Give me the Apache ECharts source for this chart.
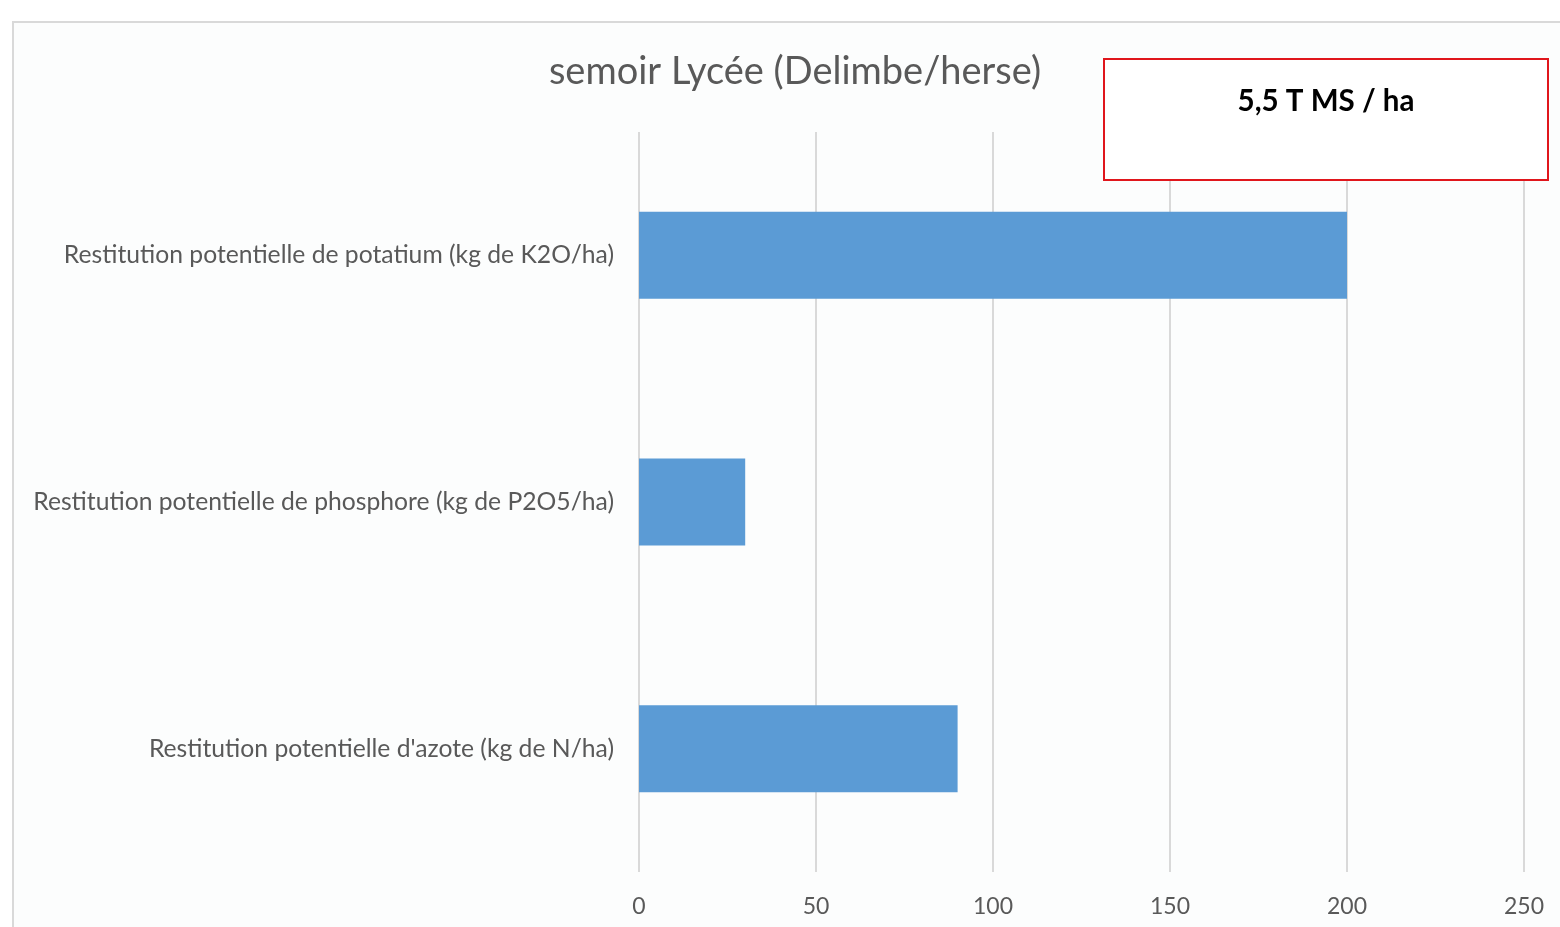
<!DOCTYPE html>
<html>
<head>
<meta charset="utf-8">
<script src="https://cdn.jsdelivr.net/npm/echarts@6/dist/echarts.min.js"></script>
<style>
  html, body { margin: 0; padding: 0; background: #fff; }
  #chart { width: 1560px; height: 927px; }
</style>
</head>
<body>
<div id="chart"></div>
<script>
const categories = [
  'Restitution potentielle de potatium (kg de K2O/ha)',
  'Restitution potentielle de phosphore (kg de P2O5/ha)',
  "Restitution potentielle d'azote (kg de N/ha)"
];
const values = [200, 30, 90];
const tickValues = [0, 50, 100, 150, 200, 250];

const chart = echarts.init(document.getElementById('chart'));
const font = 'Lato, "Open Sans", sans-serif';

chart.setOption({
  animation: false,
  textStyle: { fontFamily: font },
  graphic: [
    {
      type: 'rect', z: -10,
      shape: { x: 13, y: 22, width: 1600, height: 960 },
      style: { fill: '#fcfdfd', stroke: '#d9d9d9', lineWidth: 2 }
    },
    {
      type: 'text',
      x: 795, y: 72,
      style: { text: 'semoir Lycée (Delimbe/herse)', fill: '#595959', font: '38px ' + font, align: 'center', verticalAlign: 'middle' }
    },
    {
      type: 'rect', z: 10,
      shape: { x: 1104, y: 59, width: 444, height: 121 },
      style: { fill: '#ffffff', stroke: '#e0161c', lineWidth: 2 }
    },
    {
      type: 'text', z: 11,
      x: 1326, y: 101,
      style: { text: '5,5 T MS / ha', fill: '#000', font: 'bold 29.5px ' + font, align: 'center', verticalAlign: 'middle' }
    }
  ],
  grid: { left: 639, right: 36, top: 132, bottom: 55, containLabel: false },
  xAxis: {
    type: 'value', min: 0, max: 250, interval: 50,
    axisLine: { show: false }, axisTick: { show: false },
    splitLine: { lineStyle: { color: '#d9d9d9', width: 2 } },
    axisLabel: {
      color: '#595959', fontSize: 23, margin: 23,
      formatter: v => tickValues.includes(v) ? String(v) : ''
    }
  },
  yAxis: {
    type: 'category', data: categories, inverse: true,
    axisLine: { show: false }, axisTick: { show: false },
    axisLabel: { color: '#595959', fontSize: 24.7, margin: 25 }
  },
  series: [{
    type: 'bar', data: values, barWidth: 87,
    itemStyle: { color: '#5b9bd5' }
  }]
});
</script>
</body>
</html>
